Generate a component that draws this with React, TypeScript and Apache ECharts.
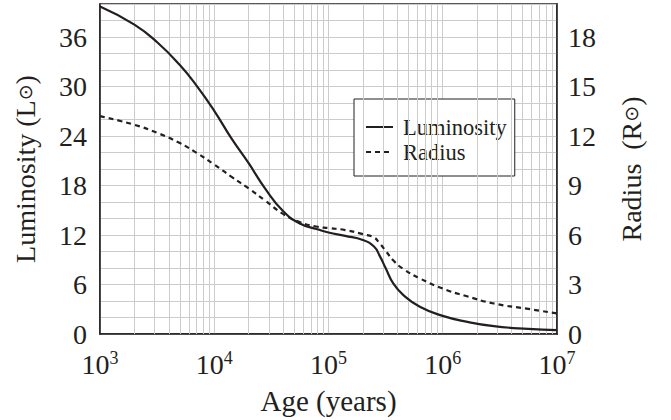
import React, { useEffect, useRef } from "react";
import * as echarts from "echarts";

// Age in years
const ages = [1000, 2000, 3200, 5000, 7000, 10000, 14000, 20000, 28000, 40000, 56000, 80000, 100000, 140000, 200000, 250000, 280000, 316000, 370000, 450000, 630000, 1000000, 1600000, 2800000, 5600000, 10000000];
// Luminosity (L☉), left axis
const luminosity = [39.7, 37.5, 35.3, 32.6, 30.1, 27.05, 23.8, 20.7, 17.6, 14.9, 13.4, 12.7, 12.3, 11.9, 11.4, 10.6, 9.5, 8.0, 6.1, 4.75, 3.3, 2.2, 1.5, 0.95, 0.62, 0.48];
// Radius (R☉), right axis
const radius = [13.2, 12.68, 12.18, 11.57, 10.98, 10.27, 9.55, 8.82, 8.08, 7.28, 6.78, 6.5, 6.42, 6.3, 6.05, 5.85, 5.5, 5.05, 4.45, 3.95, 3.37, 2.75, 2.3, 1.85, 1.52, 1.25];
// minor log grid lines
const minorGrid = [
  2000, 3000, 4000, 5000, 6000, 7000, 8000, 9000,
  20000, 30000, 40000, 50000, 60000, 70000, 80000, 90000,
  200000, 300000, 400000, 500000, 600000, 700000, 800000, 900000,
  2000000, 3000000, 4000000, 5000000, 6000000, 7000000, 8000000, 9000000,
];

const FONT = "'Liberation Serif', 'Times New Roman', serif";
const INK = "#231f20";

const titleRich = {
  b: { fontFamily: "'DejaVu Sans', sans-serif", fontSize: 19, color: INK },
};

export default function App() {
  const ref = useRef<HTMLDivElement>(null);
  useEffect(() => {
    document.body.style.margin = "0";
    const chart = echarts.init(ref.current!, undefined, { renderer: "svg" });
    const lumData = ages.map((a, i) => [a, luminosity[i]]);
    const radData = ages.map((a, i) => [a, radius[i]]);
    chart.setOption({
      animation: false,
      backgroundColor: "#ffffff",
      textStyle: { fontFamily: FONT, color: INK },
      grid: {
        left: 100,
        right: 114,
        top: 4,
        bottom: 86,
        show: true,
        borderColor: INK,
        borderWidth: 1.5,
        backgroundColor: "transparent",
      },
      legend: {
        show: true,
        orient: "vertical",
        left: 354,
        top: 99,
        data: ["Luminosity", "Radius"],
        backgroundColor: "#ffffff",
        borderColor: INK,
        borderWidth: 1,
        borderRadius: 0,
        padding: [16, 8, 12, 11],
        itemWidth: 27,
        itemHeight: 14,
        itemGap: 1,
        itemStyle: { opacity: 0 },
        textStyle: { fontFamily: FONT, fontSize: 22.5, color: INK, lineHeight: 24, padding: [0, 0, 0, 5] },
      },
      xAxis: {
        type: "log",
        logBase: 10,
        min: 1000,
        max: 10000000,
        name: "Age (years)",
        nameLocation: "middle",
        nameGap: 52,
        nameTextStyle: { fontFamily: FONT, fontSize: 29, color: INK },
        axisLine: { show: true, lineStyle: { color: INK, width: 1.5 } },
        axisTick: { show: false },
        splitLine: { show: true, lineStyle: { color: "#cccccc", width: 1 } },
        axisLabel: {
          margin: 15,
          formatter: (v: number) => `{a|10}{b|${Math.round(Math.log10(v))}}`,
          rich: {
            a: { fontFamily: FONT, fontSize: 28, color: INK, lineHeight: 30 },
            b: { fontFamily: FONT, fontSize: 18, color: INK, verticalAlign: "top", lineHeight: 18 },
          },
        },
      },
      yAxis: [
        {
          type: "value",
          min: 0,
          max: 40,
          interval: 2,
          name: "Luminosity (L{b|\u2299})",
          nameLocation: "middle",
          nameRotate: 90,
          nameGap: 61,
          nameTextStyle: { fontFamily: FONT, fontSize: 28, color: INK, rich: titleRich },
          axisLine: { show: true, lineStyle: { color: INK, width: 1.5 } },
          axisTick: { show: false },
          splitLine: { show: true, lineStyle: { color: "#cccccc", width: 1 } },
          axisLabel: {
            margin: 13,
            fontFamily: FONT,
            fontSize: 28,
            color: INK,
            formatter: (v: number) => (v % 6 === 0 ? String(v) : ""),
          },
        },
        {
          type: "value",
          min: 0,
          max: 20,
          interval: 1,
          position: "right",
          name: "Radius  (R{b|\u2299})",
          nameLocation: "middle",
          nameRotate: 90,
          nameGap: 60,
          nameTextStyle: { fontFamily: FONT, fontSize: 28, color: INK, rich: titleRich },
          axisLine: { show: true, lineStyle: { color: INK, width: 1.5 } },
          axisTick: { show: false },
          splitLine: { show: false },
          axisLabel: {
            margin: 11,
            fontFamily: FONT,
            fontSize: 28,
            color: INK,
            formatter: (v: number) => (v % 3 === 0 ? String(v) : ""),
          },
        },
      ],
      series: [
        {
          name: "grid-minor",
          type: "line",
          data: [],
          z: 1,
          silent: true,
          markLine: {
            silent: true,
            symbol: "none",
            label: { show: false },
            lineStyle: { color: "#cccccc", type: "solid", width: 1 },
            data: minorGrid.map((v) => ({ xAxis: v })),
          },
        },
        {
          name: "Luminosity",
          type: "line",
          yAxisIndex: 0,
          data: lumData,
          smooth: 0.5,
          symbol: "none",
          showSymbol: false,
          z: 5,
          lineStyle: { color: INK, width: 2.2, type: "solid" },
          itemStyle: { color: INK },
        },
        {
          name: "Radius",
          type: "line",
          yAxisIndex: 1,
          data: radData,
          smooth: 0.5,
          symbol: "none",
          showSymbol: false,
          z: 5,
          lineStyle: { color: INK, width: 2.2, type: [5, 4] },
          itemStyle: { color: INK },
        },
      ],
    });
    return () => chart.dispose();
  }, []);
  return <div ref={ref} style={{ width: 671, height: 420 }} />;
}
